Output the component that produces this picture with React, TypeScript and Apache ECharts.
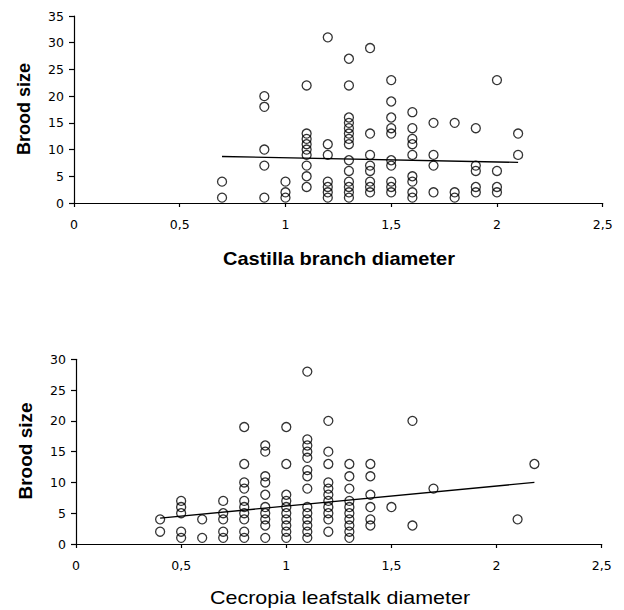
import React, { useEffect, useRef } from "react";
import * as echarts from "echarts";

// ---- Data ----
const castillaDiameters = [0.7, 0.9, 1.0, 1.1, 1.2, 1.3, 1.4, 1.5, 1.6, 1.7, 1.8, 1.9, 2.0, 2.1];
const castillaBrood = [
  [4, 1],
  [20, 18, 10, 7, 1],
  [4, 2, 1],
  [22, 13, 12, 11, 10, 9, 7, 5, 3],
  [31, 11, 9, 4, 3, 2, 1],
  [27, 22, 16, 15, 14, 13, 12, 11, 8, 6, 4, 3, 2, 1],
  [29, 13, 9, 7, 6, 4, 3, 2],
  [23, 19, 16, 14, 13, 8, 7, 4, 3, 2],
  [17, 14, 12, 11, 9, 5, 4, 2, 1],
  [15, 9, 7, 2],
  [15, 2, 1],
  [14, 7, 6, 3, 2],
  [23, 6, 3, 2],
  [13, 9],
];
const castillaTrendX = [0.7, 2.1];
const castillaTrendY = [8.7, 7.6];

const cecropiaDiameters = [0.4, 0.5, 0.6, 0.7, 0.8, 0.9, 1.0, 1.1, 1.2, 1.3, 1.4, 1.5, 1.6, 1.7, 2.1, 2.18];
const cecropiaBrood = [
  [4, 2],
  [7, 6, 5, 2, 1],
  [4, 1],
  [7, 5, 4, 2, 1],
  [19, 13, 10, 9, 7, 6, 5, 4, 2, 1],
  [16, 15, 11, 10, 8, 6, 5, 4, 3, 1],
  [19, 13, 8, 7, 6, 5, 4, 3, 2, 1],
  [28, 17, 16, 15, 14, 12, 11, 9, 6, 5, 4, 3, 2, 1],
  [20, 15, 13, 10, 9, 8, 7, 6, 5, 4, 2],
  [13, 11, 9, 7, 6, 5, 4, 3, 2, 1],
  [13, 11, 8, 6, 4, 3],
  [6],
  [20, 3],
  [9],
  [4],
  [13],
];
const cecropiaTrendX = [0.4, 2.18];
const cecropiaTrendY = [4.2, 10.0];

const xTickLabels = ["0", "0,5", "1", "1,5", "2", "2,5"];
const yAxisTitle = "Brood size";
const topXTitle = "Castilla branch diameter";
const bottomXTitle = "Cecropia leafstalk diameter";

function toPoints(xs: number[], ys: number[][]) {
  const pts: number[][] = [];
  xs.forEach((x, i) => ys[i].forEach((y) => pts.push([x, y])));
  return pts;
}
function toLine(xs: number[], ys: number[]) {
  return xs.map((x, i) => [x, ys[i]]);
}

const tickFont = "DejaVu Sans";

function xAxis(gridIndex: number) {
  return {
    type: "value",
    gridIndex,
    min: 0,
    max: 2.5,
    interval: 0.5,
    axisLine: { show: true, onZero: false, lineStyle: { color: "#000", width: 1.2 } },
    axisTick: { show: true, length: 4, lineStyle: { color: "#000", width: 1.2 } },
    splitLine: { show: false },
    axisLabel: {
      color: "#000",
      fontFamily: tickFont,
      fontSize: 12.5,
      margin: 15,
      formatter: (_v: number, i: number) => xTickLabels[i],
    },
  };
}
function yAxis(gridIndex: number, max: number) {
  return {
    type: "value",
    gridIndex,
    min: 0,
    max,
    interval: 5,
    axisLine: { show: true, onZero: false, lineStyle: { color: "#000", width: 1.2 } },
    axisTick: { show: true, length: 5, lineStyle: { color: "#000", width: 1.2 } },
    splitLine: { show: false },
    axisLabel: { color: "#000", fontFamily: tickFont, fontSize: 12.5, margin: 10 },
  };
}

const markerStyle = { color: "rgba(0,0,0,0)", borderColor: "#000", borderWidth: 1.3 };

export default function App() {
  const ref = useRef<HTMLDivElement>(null);
  useEffect(() => {
    if (!ref.current) return;
    const chart = echarts.init(ref.current, undefined, { renderer: "svg" });
    chart.setOption({
      animation: false,
      backgroundColor: "#fff",
      grid: [
        { left: 74, top: 16, width: 528.7, height: 187 },
        { left: 76, top: 359.3, width: 525.7, height: 184.7 },
      ],
      xAxis: [xAxis(0), xAxis(1)],
      yAxis: [yAxis(0, 35), yAxis(1, 30)],
      series: [
        {
          type: "line",
          xAxisIndex: 0,
          yAxisIndex: 0,
          data: toLine(castillaTrendX, castillaTrendY),
          symbol: "none",
          lineStyle: { color: "#000", width: 1.3 },
          silent: true,
        },
        {
          type: "scatter",
          xAxisIndex: 0,
          yAxisIndex: 0,
          data: toPoints(castillaDiameters, castillaBrood),
          symbol: "circle",
          symbolSize: 9,
          itemStyle: markerStyle,
        },
        {
          type: "line",
          xAxisIndex: 1,
          yAxisIndex: 1,
          data: toLine(cecropiaTrendX, cecropiaTrendY),
          symbol: "none",
          lineStyle: { color: "#000", width: 1.3 },
          silent: true,
        },
        {
          type: "scatter",
          xAxisIndex: 1,
          yAxisIndex: 1,
          data: toPoints(cecropiaDiameters, cecropiaBrood),
          symbol: "circle",
          symbolSize: 9,
          itemStyle: markerStyle,
        },
      ],
      graphic: [
        {
          type: "text",
          x: 24,
          y: 109,
          rotation: Math.PI / 2,
          style: {
            text: yAxisTitle,
            font: "bold 18px 'Liberation Sans', Arial, sans-serif",
            fill: "#000",
            textAlign: "center",
            textVerticalAlign: "middle",
          },
        },
        {
          type: "text",
          x: 25,
          y: 451,
          rotation: Math.PI / 2,
          style: {
            text: yAxisTitle,
            font: "bold 19px 'Liberation Sans', Arial, sans-serif",
            fill: "#000",
            textAlign: "center",
            textVerticalAlign: "middle",
          },
        },
        {
          type: "text",
          x: 339,
          y: 259,
          scaleX: 1.11,
          style: {
            text: topXTitle,
            font: "bold 18px 'Liberation Sans', Arial, sans-serif",
            fill: "#000",
            textAlign: "center",
            textVerticalAlign: "middle",
          },
        },
        {
          type: "text",
          x: 340,
          y: 597,
          scaleX: 1.13,
          style: {
            text: bottomXTitle,
            font: "19px 'Liberation Sans', Arial, sans-serif",
            fill: "#000",
            textAlign: "center",
            textVerticalAlign: "middle",
          },
        },
      ],
    });
    return () => chart.dispose();
  }, []);
  return (
    <div
      ref={ref}
      style={{ position: "absolute", left: 0, top: 0, width: 624, height: 610, background: "#fff" }}
    />
  );
}
